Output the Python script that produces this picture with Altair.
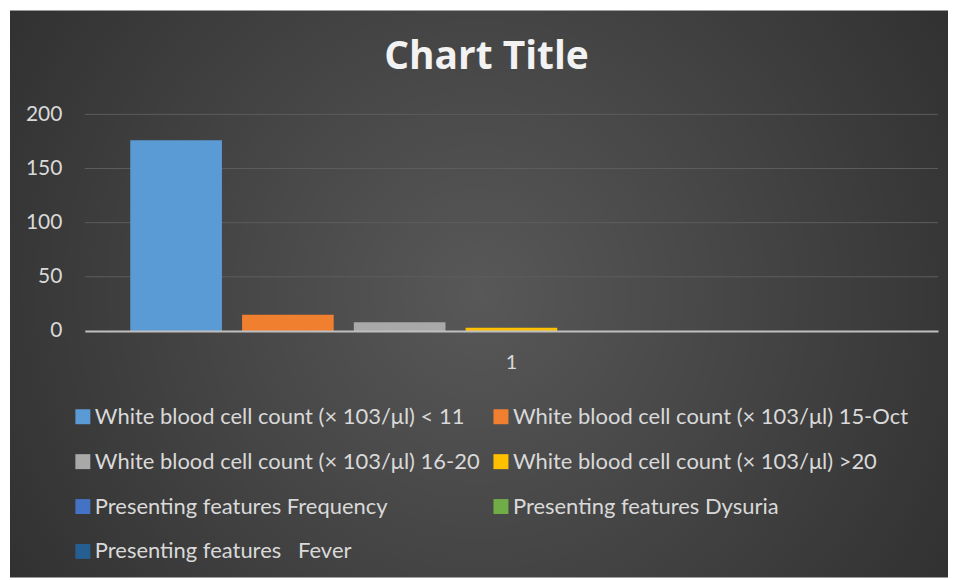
import altair as alt
import pandas as pd

# ---- data ----
categories = ["1"]
series = [
    "White blood cell count (× 103/μl) < 11",
    "White blood cell count (× 103/μl) 15-Oct",
    "White blood cell count (× 103/μl) 16-20",
    "White blood cell count (× 103/μl) >20",
    "Presenting features Frequency",
    "Presenting features Dysuria",
    "Presenting features\u00a0\u00a0\u00a0Fever",
]
values = [176, 15, 8, 3, 0, 0, 0]
colors = ["#5B9BD5", "#F07F2F", "#A9A9A9", "#FFC000", "#4472C4", "#70AD47", "#255E91"]
y_ticks = [0, 50, 100, 150, 200]
grid_vals = [50, 100, 150, 200]

bars_df = pd.DataFrame({
    "category": [categories[0]] * len(series),
    "series": series,
    "value": values,
})
grid_df = pd.DataFrame({"g": grid_vals})
bg_df = pd.DataFrame({"k": [0]})

W, H = 855, 217
PAD = {"left": 77, "top": 106, "right": 10, "bottom": 247}
FONT = "Lato"
LABEL = "#D9D9D9"

background = alt.Chart(bg_df).mark_rect(
    color=alt.RadialGradient(
        gradient="radial",
        stops=[alt.GradientStop(offset=0, color="#585858"),
               alt.GradientStop(offset=1, color="#262626")],
        x1=0.5, y1=0.5, x2=0.5, y2=0.5, r1=0, r2=0.75,
    )
).encode(
    x=alt.value(-75), x2=alt.value(W + 10),
    y=alt.value(-104), y2=alt.value(H + 247),
)

grid = alt.Chart(grid_df).mark_rule(color="#5C5C5C", strokeWidth=1).encode(
    y=alt.Y("g:Q", title=None)
)

bars = alt.Chart(bars_df).mark_bar().encode(
    x=alt.X("category:N", title=None,
            scale=alt.Scale(paddingOuter=0.0596, paddingInner=0),
            axis=alt.Axis(labelAngle=0, labelFont=FONT, labelFontSize=20,
                          labelColor=LABEL, labelPadding=22, ticks=False,
                          domainColor="#BFBFBF", domainWidth=2, zindex=1)),
    xOffset=alt.XOffset("series:N", sort=series,
                        scale=alt.Scale(paddingInner=0.18, paddingOuter=0)),
    y=alt.Y("value:Q", title=None,
            scale=alt.Scale(domain=[0, 200], nice=False),
            axis=alt.Axis(values=y_ticks, grid=False, domain=False, ticks=False,
                          labelFont=FONT, labelFontSize=21, labelColor=LABEL,
                          labelPadding=23, zindex=1)),
    color=alt.Color("series:N", sort=series,
                    scale=alt.Scale(domain=series, range=colors),
                    legend=alt.Legend(
                        title=None, orient="none", legendX=-13, legendY=292,
                        direction="horizontal",
                        columns=2, columnPadding=10, rowPadding=23,
                        symbolType="square", symbolSize=225, symbolStrokeWidth=0,
                        symbolOffset=0, labelOffset=1,
                        labelFont=FONT, labelFontSize=22, labelColor=LABEL,
                        labelLimit=500, padding=0, zindex=1)),
)

chart = alt.layer(background, grid, bars).properties(
    width=W, height=H,
    autosize=alt.AutoSizeParams(type="none"),
    padding=PAD,
    background="white",
    title=alt.TitleParams("Chart Title", font="Open Sans", fontSize=39,
                          fontWeight="bold", color="#F2F2F2", anchor="middle",
                          frame="group", baseline="alphabetic", offset=-98,
                          dx=-25, zindex=1),
).configure_view(stroke=None)

chart.save("out.html", embed_options={"renderer": "svg", "actions": False})
